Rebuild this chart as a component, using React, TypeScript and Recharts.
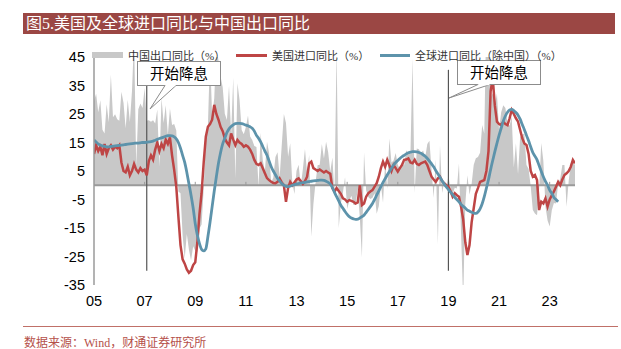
import { ComposedChart, Area, Line, XAxis, YAxis, ReferenceLine } from "recharts";

// monthly, 2005-07 .. 2024-07 (index 0 = 2005-07)
const startYear = 2005;
const startMonth = 7;

// 中国出口同比（%）
const cnExport = [
  29.6, 32.1, 25.6, 29.8, 19.5, 18.2,
  28.4, 22.1, 38.8, 23.9, 24.9, 23.2, 22.6, 32.8, 28.9, 20, 30, 22.2,
  33, 51.7, 6.9, 26.7, 28.7, 27.1, 34.1, 22.6, 22.8, 22.3, 22.8, 21.7,
  26.6, 6.5, 30.6, 21.8, 28.1, 17.6, 26.9, 21.1, 21.5, 19.2, -2.2, -2.8,
  -17.5, -25.7, -17.1, -22.6, -26.4, -21.4, -23, -23.4, -15.2, -13.8, -1.2, 17.7,
  21, 45.7, 24.3, 30.5, 48.5, 43.9, 38.1, 34.4, 25.1, 22.9, 34.9, 17.9,
  37.7, 2.4, 35.8, 29.9, 19.4, 17.9, 20.4, 24.5, 17.1, 15.9, 13.8, 13.4,
  -0.5, 18.4, 8.9, 4.9, 15.3, 11.3, 1, 2.7, 9.9, 11.6, 2.9, 14.1,
  25, 21.8, 10, 14.7, 1, -3.1, 5.1, 7.2, -0.3, 5.6, 12.7, 4.3,
  10.6, -18.1, -6.6, 0.9, 7, 7.2, 14.5, 9.4, 15.3, 11.6, 4.7, 9.7,
  -3.3, 48.3, -15, -6.4, -2.5, 2.8, -8.3, -5.5, -3.7, -6.9, -6.8, -1.4,
  -11.2, -25.4, 11.5, -1.8, -4.1, -4.8, -4.4, -2.8, -10, -7.3, 0.1, -6.1,
  7.9, -1.3, 16.4, 8, 8.7, 11.3, 7.2, 5.5, 8.1, 6.9, 12.3, 10.9,
  11.1, 44.5, -2.7, 12.9, 12.6, 11.3, 12.2, 9.8, 14.5, 15.6, 5.4, -4.4,
  9.1, -20.7, 14, -2.7, 1.1, -1.3, 3.3, -1, -3.2, -0.9, -1.1, 7.6,
  -17.2, -40.6, -6.6, 3.5, -3.3, 0.5, 7.2, 9.5, 9.9, 11.4, 21.1, 18.1,
  60.6, 154.9, 30.6, 32.3, 27.9, 32.2, 19.3, 25.6, 28.1, 27.1, 22, 20.9,
  24.1, 6.2, 14.7, 3.9, 16.9, 17.9, 18, 7.1, 5.7, -0.3, -8.7, -9.9,
  -10.5, -1.3, 14.8, 8.5, -7.5, -12.4, -14.5, -8.8, -6.2, -6.4, 0.5, 2.3,
  7.1, 7.1, -7.5, 1.5, 7.6, 8.6, 7,
];

// 美国进口同比（%）
const usImport = [
  11, 14, 12, 13.5, 10.5, 14.5,
  11, 13, 14, 12.5, 13.5, 13, 14, 8, 5, 4.5, 6.5, 3.5,
  5, 7.5, 5.5, 4.5, 6, 5, 5.5, 3.5, 8.5, 10.5, 9, 12.5,
  15, 12, 14.5, 13, 16, 14.5, 16.8, 10.5, 5.4, -0.5, -11, -21,
  -26, -27.5, -29.5, -30.7, -30, -28, -27, -20, -10, -2.8, 8, 17,
  20.5, 21.5, 23, 28.2, 25, 23, 20.5, 19, 16.5, 15, 14, 18.2,
  16, 14.1, 15.9, 15, 14.5, 13.5, 14, 13.5, 12.5, 11, 8.9, 7.5,
  7.1, 7.7, 6, 4.2, 2.5, 1.8, 1.2, 0.8, 0.7, 1.2, 2.4, 1,
  0, -5.8, -1, 1.2, 0, 1, 2, 2.4, 1.5, 0.5, 1.5, 3,
  7.7, 8.3, 6, 5.5, 5, 5.5, 5, 4.5, 5, 4.5, 4, -1,
  -2.2, -1, -2, -3, -4.6, -5, -5.8, -5.2, -5.5, -5.8, -6.4, -6,
  0, -7, -6.4, -4, -2.8, -2.2, -1.7, -0.5, 0.7, 3, 6, 8.3,
  6.5, 8.9, 7, 5, 7.1, 6, 4.8, 6, 7.1, 8.9, 9, 9.4,
  8, 7.7, 8.9, 7.5, 7.1, 7.7, 8, 8.3, 7.1, 5, 3, 2,
  1.2, 2.4, 3, 1.5, 0.7, 0, -0.5, -2, -4, -2.8, -3.5, -4,
  -7.5, -12, -20, -24.5, -21, -13, -8, -3, -1, 1.2, 1.5, 1.8,
  5, 12, 33, 37.5, 28, 22.3, 21.5, 21.1, 22.3, 21.5, 21.1, 23.5,
  26.4, 25, 23.5, 22.3, 19.4, 16.5, 14.7, 14.1, 11, 5, 3, 3.6,
  1.8, -8.7, -5.8, -6.4, -4.6, -7.5, -5, -3.5, -2.2, -0.5, 1.2, 0,
  2, 3.6, 4.2, 5, 6.5, 8.9, 7.7,
];

// 全球进口同比（除中国）（%）
const worldImport = [
  15.9, 15.2, 14.5, 14.1, 13.8, 13.6,
  13.5, 13.5, 13.6, 13.7, 13.8, 13.9, 14, 14.1, 14.2, 14.3, 14.4, 14.5,
  14.6, 14.7, 14.8, 14.8, 14.9, 15, 15, 15.1, 15.2, 15.3, 15.5, 15.8,
  16.1, 16.4, 16.6, 16.9, 17.2, 17.4, 17.4, 17.3, 17, 16.3, 15, 13,
  10.5, 8, 4.5, 0.5, -3.5, -8, -13.5, -17.5, -20.5, -22.5, -23, -22.3,
  -18, -13, -7.5, -2, 3, 7.7, 11.5, 14.5, 16.5, 18.5, 19.8, 20.6,
  21.2, 21.6, 21.7, 21.7, 21.6, 21.4, 21.1, 20.9, 20.5, 20, 19, 17.5,
  16.5, 15.2, 13.6, 12, 10.5, 8.5, 6.5, 5, 3.7, 2.4, 1.5, 0.6,
  0, -0.4, -0.5, -0.3, 0, 0.2, 0.4, 0.6, 0.8, 0.9, 1, 1.2,
  1.3, 1.4, 1.5, 1.6, 1.7, 1.8, 1.8, 1.7, 1.4, 1, 0.4, -0.8,
  -2.5, -4, -5.5, -7, -8.1, -9.2, -10.2, -11, -11.5, -11.8, -12, -11.9,
  -11.5, -11, -10.5, -9.5, -8.5, -7.5, -6.4, -5, -3.5, -2, -0.5, 1,
  2.3, 3.6, 4.8, 6, 7.1, 8, 8.7, 9.4, 10, 10.5, 11, 11.4,
  11.6, 11.8, 11.8, 11.7, 11.5, 11.2, 10.7, 10.2, 9.4, 8.5, 7.5, 6.5,
  5.2, 4, 2.8, 1.6, 0.4, -0.6, -1.5, -2.4, -3.3, -4.2, -5, -5.8,
  -6.7, -7.4, -8, -8.7, -9.1, -9.5, -9.8, -9.9, -9.4, -8.3, -6.5, -4,
  -1, 2, 5.5, 8.7, 11.8, 14.7, 17.5, 20, 22.5, 24.3, 25.6, 26.4,
  26.6, 26.2, 25.5, 24.6, 23.2, 21.3, 19.5, 17.5, 15.6, 13.5, 11.5, 10.2,
  8.9, 6.9, 4.9, 3, 1.4, 0, -1.7, -2.8, -4.3, -5, -5.8, null,
  null, null, null, null, null, null, null,
];

const xTickLabels = ["05", "07", "09", "11", "13", "15", "17", "19", "21", "23"];
const xTicks = [0, 24, 48, 72, 96, 120, 144, 168, 192, 216];
const yTicks = [-35, -25, -15, -5, 5, 15, 25, 35, 45];
const rateCutMonths = ["2007-08", "2019-07"];

const monthIndex = (ym: string) => {
  const [y, m] = ym.split("-").map(Number);
  return (y - startYear) * 12 + (m - startMonth);
};

const rows = cnExport.map((v, i) => ({
  i,
  cn: v,
  us: usImport[i],
  world: worldImport[i],
}));

const tickFont = { fill: "#000", fontSize: 14.5, fontFamily: "'Liberation Sans', Arial, sans-serif" };
const cjk = "'Liberation Serif', 'Noto Sans CJK SC', serif";

const RED = "#be4545";
const BLUE = "#5d93ab";
const GRAY = "#c8c8c8";

const legendText = { position: "absolute" as const, top: 47, fontSize: 11, color: "#333", fontFamily: cjk, whiteSpace: "nowrap" as const };

export default function App() {
  return (
    <div style={{ position: "absolute", left: 0, top: 0, width: 621, height: 349, background: "#fff", overflow: "hidden" }}>
      {/* title bar */}
      <div style={{ position: "absolute", left: 23, top: 13, width: 592, height: 21, background: "#9b4744", color: "#fff", fontSize: 16, lineHeight: "21px", paddingLeft: 3, boxSizing: "border-box", fontFamily: cjk }}>
        图5.美国及全球进口同比与中国出口同比
      </div>

      <div style={{ position: "absolute", left: 0, top: 0 }}>
        <ComposedChart width={621} height={349} data={rows} margin={{ top: 57, right: 46, bottom: 34, left: 34 }}>
          <XAxis
            dataKey="i"
            type="number"
            domain={[0, 228]}
            ticks={xTicks}
            interval={0}
            tickFormatter={(v: number) => xTickLabels[xTicks.indexOf(v)]}
            axisLine={false}
            tickLine={false}
            tickMargin={5}
            height={30}
            tick={tickFont}
            allowDataOverflow
          />
          <YAxis
            type="number"
            domain={[-35, 45]}
            ticks={yTicks}
            interval={0}
            allowDataOverflow
            width={60}
            axisLine={{ stroke: "#9a9a9a", strokeWidth: 1.5 }}
            tickLine={false}
            tickMargin={3}
            tick={tickFont}
          />
          <Area dataKey="cn" type="linear" baseValue={0} fill={GRAY} fillOpacity={1} stroke="none" isAnimationActive={false} />
          <ReferenceLine y={0} stroke="#9a9a9a" strokeWidth={2} />
          {xTicks.slice(1).map((t) => (
            <ReferenceLine key={t} segment={[{ x: t, y: 0 }, { x: t, y: 1.2 }]} stroke="#9a9a9a" strokeWidth={1} />
          ))}
          {rateCutMonths.map((m) => (
            <ReferenceLine key={m} segment={[{ x: monthIndex(m), y: 40.5 }, { x: monthIndex(m), y: -30 }]} stroke="#555" strokeWidth={1.2} />
          ))}
          <Line dataKey="us" type="linear" stroke={RED} strokeWidth={2.5} dot={false} isAnimationActive={false} />
          <Line dataKey="world" type="monotone" stroke={BLUE} strokeWidth={2.8} dot={false} isAnimationActive={false} />
        </ComposedChart>
      </div>

      {/* callouts */}
      <svg width={621} height={349} style={{ position: "absolute", left: 0, top: 0, pointerEvents: "none" }}>
        <rect x={137.5} y={61.5} width={83} height={24} fill="#fff" stroke="#8c8c8c" />
        <polyline points="165,85.5 150,109 176,85.5" fill="#fff" stroke="#8c8c8c" />
        <line x1={165.5} y1={85.5} x2={175.5} y2={85.5} stroke="#fff" strokeWidth={1.5} />
        <text x={179} y={74} textAnchor="middle" dominantBaseline="central" fontSize={14.5} fontFamily={cjk} fill="#000">开始降息</text>

        <rect x={457.5} y={60.5} width={83} height={24} fill="#fff" stroke="#8c8c8c" />
        <polyline points="478,84.5 449,98 490,84.5" fill="#fff" stroke="#8c8c8c" />
        <line x1={478.5} y1={84.5} x2={489.5} y2={84.5} stroke="#fff" strokeWidth={1.5} />
        <text x={499} y={73} textAnchor="middle" dominantBaseline="central" fontSize={14.5} fontFamily={cjk} fill="#000">开始降息</text>
      </svg>

      {/* legend */}
      <div style={{ position: "absolute", left: 92, top: 52, width: 31, height: 6, background: GRAY }} />
      <div style={{ ...legendText, left: 128 }}>中国出口同比（%）</div>
      <div style={{ position: "absolute", left: 236, top: 54, width: 31, height: 3, background: RED }} />
      <div style={{ ...legendText, left: 272 }}>美国进口同比（%）</div>
      <div style={{ position: "absolute", left: 380, top: 54, width: 30, height: 3, background: BLUE }} />
      <div style={{ ...legendText, left: 415 }}>全球进口同比（除中国）（%）</div>

      {/* source */}
      <div style={{ position: "absolute", left: 23, top: 326, width: 595, height: 1, background: "#c07068" }} />
      <div style={{ position: "absolute", left: 24, top: 333, fontSize: 12, color: "#b5504a", fontFamily: cjk, whiteSpace: "nowrap" }}>
        数据来源：Wind，财通证券研究所
      </div>
    </div>
  );
}
